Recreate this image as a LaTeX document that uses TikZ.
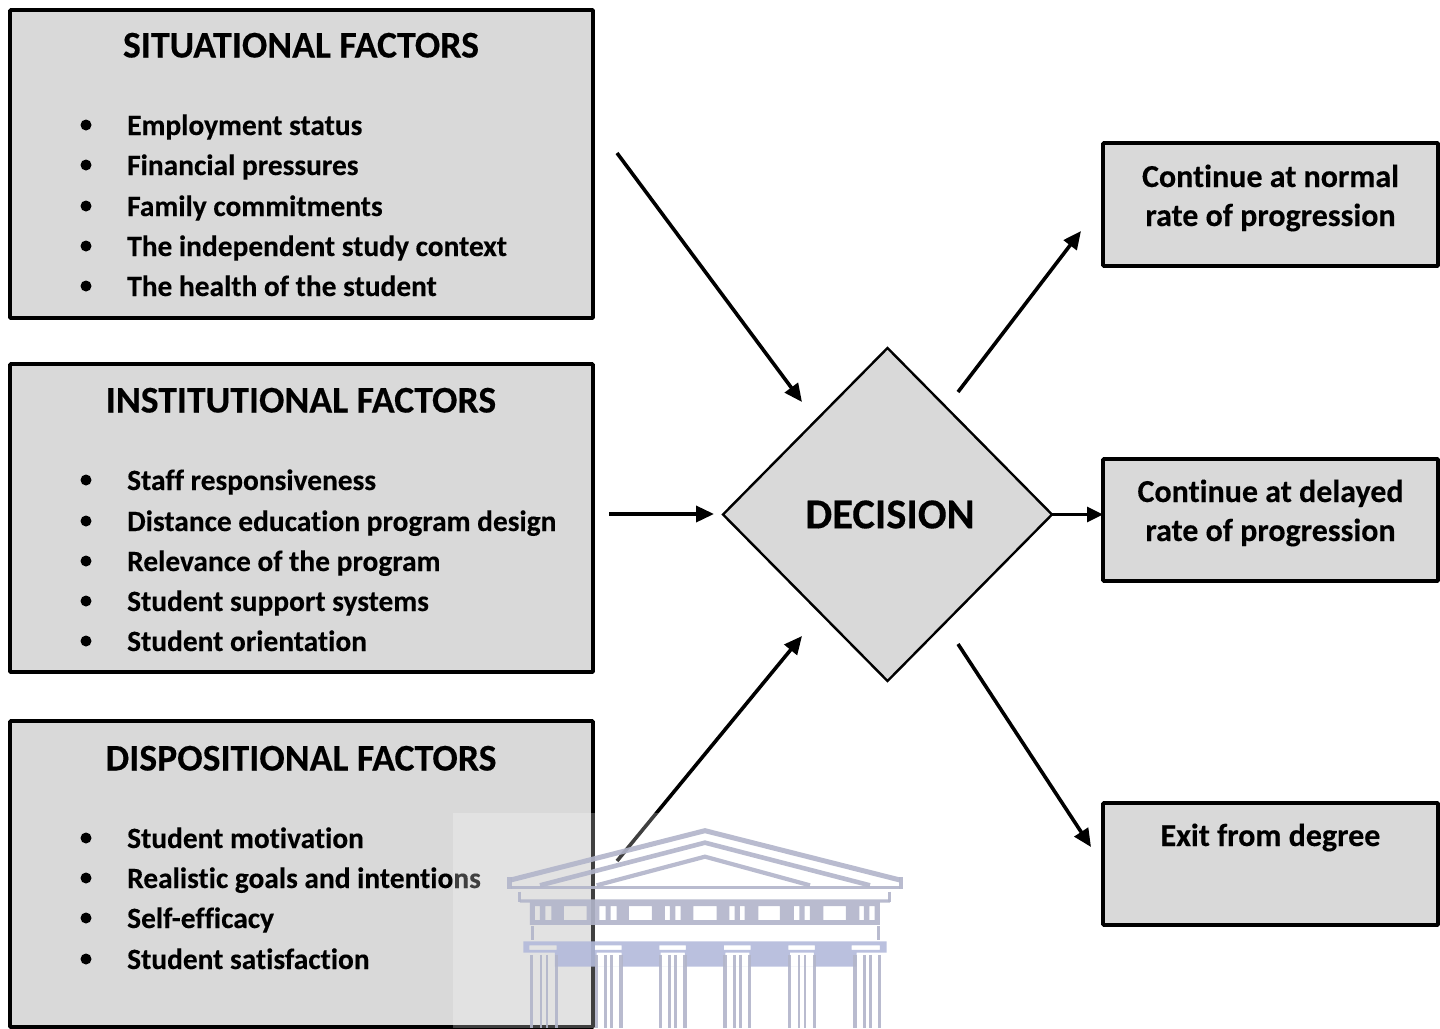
\documentclass[tikz,border=0pt]{standalone}
\usepackage{fontspec}
\setmainfont[Ligatures=NoCommon,BoldFeatures={FakeBold=0.25}]{Carlito}
\usetikzlibrary{shapes.geometric,arrows.meta}
\definecolor{boxgray}{HTML}{D9D9D9}
\definecolor{templeline}{HTML}{B2B5CA}
\definecolor{templeband}{HTML}{B3BADB}
\tikzset{
  x=1pt,y=-1pt,
  factorbox/.style={draw=black,line width=3.6pt,fill=boxgray,rounded corners=0.8pt,inner sep=0,outer sep=0,anchor=north west},
  decisionbox/.style={diamond,aspect=1,draw=black,line width=2.4pt,fill=boxgray,inner sep=0,outer sep=0,minimum width=329pt,minimum height=333pt,font=\bfseries\fontsize{42.6}{46}\selectfont},
  titletext/.style={anchor=base,inner sep=0,yshift=-1pt,font=\bfseries\fontsize{37.7}{42}\selectfont},
  itemtext/.style={anchor=base west,inner sep=0,yshift=-1pt,font=\bfseries\fontsize{29.4}{34}\selectfont},
  outtext/.style={anchor=base,inner sep=0,yshift=-1pt,font=\bfseries\fontsize{32}{36}\selectfont},
  bulletdot/.style={circle,fill=black,inner sep=0,minimum size=11pt},
  flow/.style={line width=3.6pt,-{Triangle[length=18pt,width=16pt]}},
  flowthin/.style={line width=2.8pt,-{Triangle[length=16pt,width=15pt]}},
  tline/.style={draw=templeline,opacity=.9,line join=miter},
  tfill/.style={fill=templeline,opacity=.9,even odd rule},
  bfill/.style={fill=templeband,opacity=.9,even odd rule},
}
\begin{document}
\begin{tikzpicture}
\useasboundingbox (0,0) rectangle (1440,1028);
% boxes
\node[factorbox,minimum width=583pt,minimum height=308pt] (sit) at (10,10) {};
\node[factorbox,minimum width=583pt,minimum height=308pt] (ins) at (10,364) {};
\node[factorbox,minimum width=583pt,minimum height=306pt] (dis) at (10,721) {};
\node[factorbox,minimum width=335pt,minimum height=123pt] (cn) at (1103,143) {};
\node[factorbox,minimum width=335pt,minimum height=122pt] (cd) at (1103,459) {};
\node[factorbox,minimum width=335pt,minimum height=122pt] (ex) at (1103,803) {};
\node[decisionbox] (dec) at (887.5,514.5) {\hspace*{5pt}DECISION};
% titles
\node[titletext] (t1) at (301,56.5) {SITUATIONAL FACTORS};
\node[titletext] (t2) at (301,411.5) {INSTITUTIONAL FACTORS};
\node[titletext] (t3) at (301,769.5) {DISPOSITIONAL FACTORS};
% situational
\node[bulletdot] (b11) at (86,125) {}; \node[itemtext] (i11) at (127,134) {Employment status};
\node[bulletdot] (b12) at (86,165) {}; \node[itemtext] (i12) at (127,174) {Financial pressures};
\node[bulletdot] (b13) at (86,206) {}; \node[itemtext] (i13) at (127,215) {Family commitments};
\node[bulletdot] (b14) at (86,246) {}; \node[itemtext] (i14) at (127,255) {The independent study context};
\node[bulletdot] (b15) at (86,286) {}; \node[itemtext] (i15) at (127,295) {The health of the student};
% institutional
\node[bulletdot] (b21) at (86,480) {}; \node[itemtext] (i21) at (127,489) {Staff responsiveness};
\node[bulletdot] (b22) at (86,521) {}; \node[itemtext] (i22) at (127,530) {Distance education program design};
\node[bulletdot] (b23) at (86,561) {}; \node[itemtext] (i23) at (127,570) {Relevance of the program};
\node[bulletdot] (b24) at (86,601) {}; \node[itemtext] (i24) at (127,610) {Student support systems};
\node[bulletdot] (b25) at (86,641) {}; \node[itemtext] (i25) at (127,650) {Student orientation};
% dispositional
\node[bulletdot] (b31) at (86,838) {}; \node[itemtext] (i31) at (127,847) {Student motivation};
\node[bulletdot] (b32) at (86,878) {}; \node[itemtext] (i32) at (127,887) {Realistic goals and intentions};
\node[bulletdot] (b33) at (86,918) {}; \node[itemtext] (i33) at (127,927) {Self-efficacy};
\node[bulletdot] (b34) at (86,959) {}; \node[itemtext] (i34) at (127,968) {Student satisfaction};
% outcomes
\node[outtext] (o11) at (1270.5,186) {Continue at normal};
\node[outtext] (o12) at (1270.5,225) {rate of progression};
\node[outtext] (o21) at (1270.5,501) {Continue at delayed};
\node[outtext] (o22) at (1270.5,540) {rate of progression};
\node[outtext] (o31) at (1270.5,845) {Exit from degree};
% connectors
\coordinate (a1s) at (617,153); \coordinate (a1e) at (802,402);
\coordinate (a2s) at (609,514); \coordinate (a2e) at (714,514);
\coordinate (a3s) at (617,861); \coordinate (a3e) at (802,636);
\coordinate (o1s) at (958,392); \coordinate (o1e) at (1081,231);
\coordinate (o3s) at (958,644); \coordinate (o3e) at (1091,847);
\draw[flow] (a1s) -- (a1e);
\draw[flow] (a2s) -- (a2e);
\draw[flow] (a3s) -- (a3e);
\draw[flow] (o1s) -- (o1e);
\draw[flowthin] (dec.east) -- (dec.east -| cd.west);
\draw[flow] (o3s) -- (o3e);
% watermark
\fill[white,opacity=.25] (453,813) rectangle (905,1028);
\begin{scope}[shift={(440,800)},x=0.3333pt,y=-0.3333pt]
  % pediment
  \draw[tline,line width=5pt] (212,240) -- (795,92) -- (1380,240);
  \draw[tline,line width=4.6pt] (300,256) -- (795,128) -- (1290,256);
  \draw[tline,line width=4.2pt] (470,256) -- (795,170) -- (1110,256);
  \draw[tline,line width=4.5pt] (209,232) -- (209,268) (1383,232) -- (1383,268);
  \draw[tline,line width=3.6pt] (212,262) -- (1380,262);
  \draw[tline,line width=3pt] (240,275) -- (240,305) (1350,275) -- (1350,305);
  % frieze with metopes and triglyph slits
  \path[tfill] (240,298) rectangle (1350,308) (270,308) rectangle (1320,375)
    (372,318) rectangle (440,360) (567,318) rectangle (636,360) (760,318) rectangle (830,360)
    (955,318) rectangle (1020,360) (1150,318) rectangle (1218,360)
    (285,318) rectangle (300,360) (316,318) rectangle (334,360)
    (478,318) rectangle (497,360) (512,318) rectangle (530,360)
    (675,318) rectangle (690,360) (706,318) rectangle (722,360)
    (868,318) rectangle (884,360) (900,318) rectangle (914,360)
    (1062,318) rectangle (1078,360) (1094,318) rectangle (1110,360)
    (1258,318) rectangle (1272,360) (1288,318) rectangle (1304,360);
  \draw[tline,line width=3pt] (278,378) -- (278,420) (1315,378) -- (1315,420);
  % architrave band with capitals
  \path[bfill] (250,424) rectangle (1340,458) (345,458) rectangle (1250,500)
    (268,436) rectangle (350,450) (465,436) rectangle (545,450) (658,436) rectangle (738,450)
    (852,436) rectangle (932,450) (1045,436) rectangle (1125,450) (1235,436) rectangle (1320,450)
    (470,458) rectangle (545,500) (662,458) rectangle (735,500) (856,458) rectangle (928,500) (1050,458) rectangle (1122,500);
  % columns
  \foreach \c in {312,506,698,892,1086,1282}{
    \draw[tline,line width=3.2pt] ({\c-37},465) -- ({\c-37},684) ({\c+37},465) -- ({\c+37},684);
    \draw[tline,line width=2.8pt] ({\c-9},465) -- ({\c-9},684) ({\c+9},465) -- ({\c+9},684);
  }
\end{scope}
\end{tikzpicture}
\end{document}
